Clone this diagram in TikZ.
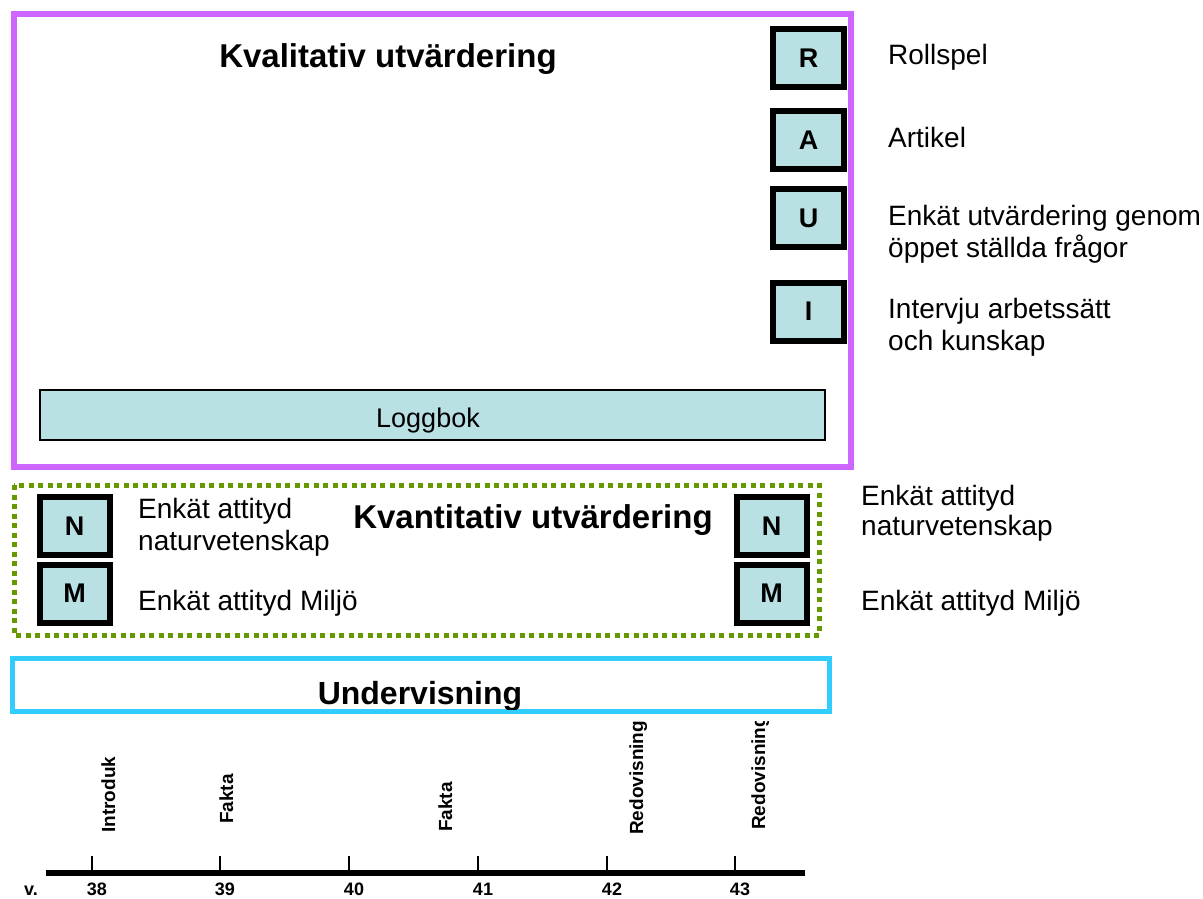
\documentclass[tikz,border=0pt]{standalone}
\usepackage{fontspec}
\setmainfont{Liberation Sans}
\definecolor{boxfill}{RGB}{185,224,227}
\definecolor{qualframe}{RGB}{204,102,255}
\definecolor{quantframe}{RGB}{102,153,0}
\definecolor{teachframe}{RGB}{51,204,255}
\newcommand{\fsz}[1]{\fontsize{#1}{#1}\selectfont}
\begin{document}
\begin{tikzpicture}[x=1pt,y=-1pt,
  letterbox/.style={draw=black, line width=6pt, fill=boxfill, minimum width=71pt,
    minimum height=58pt, inner sep=0pt, font=\bfseries\fsz{27}},
  smallbox/.style={letterbox, minimum width=70pt, minimum height=58pt, font=\bfseries\fsz{27}},
  label/.style={inner sep=0pt, anchor=base west, font=\fsz{28}, align=left},
  heading/.style={inner sep=0pt, anchor=base, font=\bfseries\fsz{33}},
  weeklabel/.style={inner sep=0pt, anchor=base, font=\bfseries\fsz{18}},
  phase/.style={inner sep=0pt, anchor=base west, rotate=90, font=\bfseries\fsz{19}}]
\useasboundingbox (0,0) rectangle (1203,899);

% qualitative evaluation frame
\draw[qualframe, line width=5.5pt] (14,14) rectangle (851,467);
\node[heading] (qualtitle) at (388,68) {Kvalitativ utvärdering};
\node[letterbox] (R) at (808.5,58) {R};
\node[letterbox] (A) at (808.5,140) {A};
\node[letterbox] (U) at (808.5,218) {U};
\node[letterbox] (I) at (808.5,311.5) {I};
\node[label] (Rtxt) at (888,65) {Rollspel};
\node[label] (Atxt) at (888,147) {Artikel};
\node[label] (Utxt1) at (888,225) {Enkät utvärdering genom};
\node[label] (Utxt2) at (888,257) {öppet ställda frågor};
\node[label] (Itxt1) at (888,318) {Intervju arbetssätt};
\node[label] (Itxt2) at (888,350) {och kunskap};
\node[draw=black, line width=1.2pt, fill=boxfill, minimum width=785pt, minimum height=50pt,
  inner sep=0pt] (logg) at (432.5,415) {};
\node[inner sep=0pt, anchor=base, font=\fsz{27}] (loggtxt) at (428,427) {Loggbok};

% quantitative evaluation frame
\draw[quantframe, line width=5pt, dash pattern=on 5pt off 4.5pt] (14,485) rectangle (819,635);
\node[heading] (quanttitle) at (533,528) {Kvantitativ utvärdering};
\node[smallbox] (Nl) at (74.5,526) {N};
\node[smallbox] (Ml) at (74.5,593.5) {M};
\node[smallbox] (Nr) at (771.5,526) {N};
\node[smallbox] (Mr) at (771.5,593.5) {M};
\node[label] (Nltxt1) at (138,518) {Enkät attityd};
\node[label] (Nltxt2) at (138,550) {naturvetenskap};
\node[label] (Mltxt) at (138,610) {Enkät attityd Miljö};
\node[label] (Nrtxt1) at (861,505) {Enkät attityd};
\node[label] (Nrtxt2) at (861,535) {naturvetenskap};
\node[label] (Mrtxt) at (861,610) {Enkät attityd Miljö};

% teaching frame
\draw[teachframe, line width=5pt] (12.5,658.5) rectangle (829.5,711.5);
\begin{scope}
  \clip (15,661) rectangle (827,709);
  \node[heading, font=\bfseries\fsz{32}] (teach) at (420,704) {Undervisning};
\end{scope}

% timeline of weeks
\draw[black, line width=6pt] (46,873) coordinate (tl0) -- (805,873) coordinate (tl1);
\foreach \x/\w in {92/38, 220/39, 349/40, 478/41, 607/42, 735/43} {
  \draw[black, line width=1.4pt] (\x,856) coordinate (tick\w) -- (\x,873);
  \node[weeklabel] (wk\w) at (\x+5,895) {\w};
}
\node[weeklabel] (v) at (31,895) {v.};

% lesson phases
\begin{scope}
  \clip (0,721) rectangle (1203,899);
  \node[phase] (p38) at (115,833) {Introduk};
  \node[phase] (p39) at (233,824) {Fakta};
  \node[phase] (p41) at (452,832) {Fakta};
  \node[phase] (p42) at (643,835) {Redovisning};
  \node[phase] (p43) at (765,830) {Redovisning};
\end{scope}
\end{tikzpicture}
\end{document}
